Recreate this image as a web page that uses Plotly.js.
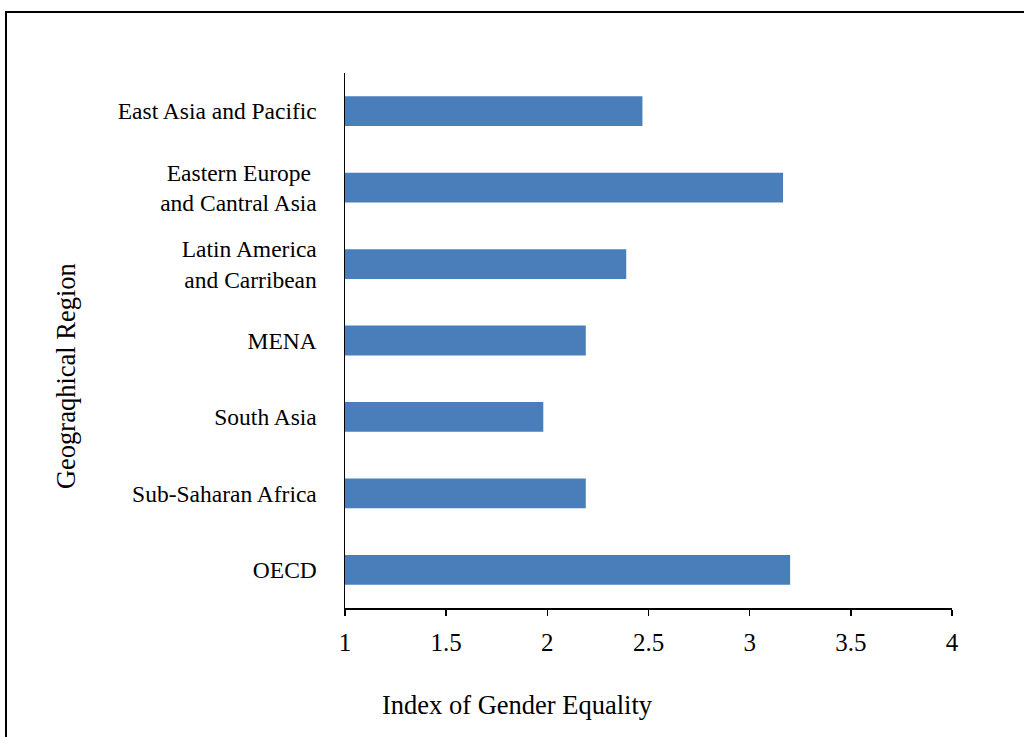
<!DOCTYPE html>
<html>
<head>
<meta charset="utf-8">
<script src="https://cdn.plot.ly/plotly-3.0.1.min.js"></script>
<style>
html,body{margin:0;padding:0;background:#fff;}
#frame{position:absolute;left:5px;top:11px;width:1030px;height:740px;border-left:2px solid #000;border-top:2px solid #000;}
#chart{position:absolute;left:0;top:0;width:1024px;height:737px;}
</style>
</head>
<body>
<div id="frame"></div>
<div id="chart"></div>
<script>
const categories = ["East Asia and Pacific", "Eastern Europe <br>and Cantral Asia", "Latin America<br>and Carribean", "MENA", "South Asia", "Sub-Saharan Africa", "OECD"];
const values = [2.47, 3.165, 2.39, 2.19, 1.98, 2.19, 3.20];
const xTicks = [1, 1.5, 2, 2.5, 3, 3.5, 4];
const xTitle = "Index of Gender Equality";
const yTitle = "Geograqhical Region";

const font = "Liberation Serif, Times New Roman, serif";
Plotly.newPlot('chart', [{
  type: 'bar',
  orientation: 'h',
  x: values.map(v => v - 1),
  y: categories,
  base: 1,
  width: 0.39,
  marker: {color: '#4a7ebb'},
  hoverinfo: 'skip'
}], {
  width: 1024, height: 737,
  margin: {l: 345, r: 72, t: 73, b: 129},
  paper_bgcolor: 'rgba(0,0,0,0)',
  plot_bgcolor: 'rgba(0,0,0,0)',
  font: {family: font, color: '#000', size: 24},
  showlegend: false,
  xaxis: {
    range: [1, 4], tickvals: xTicks, ticktext: xTicks.map(String),
    showgrid: false, zeroline: false, showline: true, linecolor: '#000', linewidth: 1.5,
    ticks: 'outside', ticklen: 6, tickcolor: '#000', tickwidth: 1.5,
    tickfont: {size: 25}, ticklabelstandoff: 5, fixedrange: true
  },
  yaxis: {
    autorange: 'reversed', showgrid: false, zeroline: false,
    showline: true, linecolor: '#000', linewidth: 1.5, ticks: '',
    tickfont: {size: 23.5}, ticklabelstandoff: 22
  },
  annotations: [
    {text: xTitle, xref: 'paper', yref: 'paper', x: 0.2834, y: -0.181,
     xanchor: 'center', yanchor: 'middle', showarrow: false, font: {size: 26.5}},
    {text: yTitle, xref: 'paper', yref: 'paper', x: -0.4596, y: 0.4336, textangle: -90,
     xanchor: 'center', yanchor: 'middle', showarrow: false, font: {size: 26.5}}
  ]
}, {staticPlot: true});
</script>
</body>
</html>
